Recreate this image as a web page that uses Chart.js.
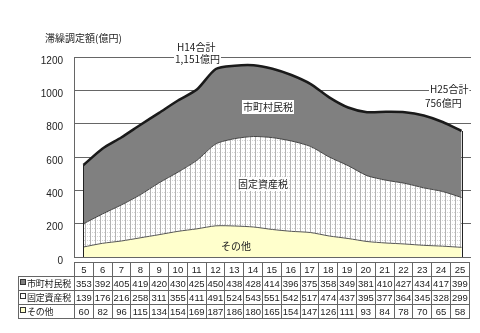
<!DOCTYPE html>
<html>
<head>
<meta charset="utf-8">
<script src="https://cdn.jsdelivr.net/npm/chart.js@4/dist/chart.umd.min.js"></script>
<style>
  html, body { margin: 0; padding: 0; background: #fff; }
  #wrap { position: relative; width: 480px; height: 333px; overflow: hidden; }
  #c { position: absolute; left: 0; top: 0; }
  #tbl {
    position: absolute; left: 18px; top: 262px;
    border-collapse: collapse; table-layout: fixed; width: 452px;
    font-family: "Liberation Sans", "Noto Sans CJK JP", sans-serif;
    font-size: 9.5px; color: #222;
  }
  #tbl td { border: 1px solid #666; height: 13px; padding: 0; text-align: center; white-space: nowrap; overflow: hidden; line-height: 13px; }
  #tbl td.blank { border: none; }
  #tbl td.name { text-align: left; font-family: "Noto Sans CJK JP", sans-serif; font-size: 9px; padding-left: 1px; letter-spacing: -0.2px; }
  .key { display: inline-block; width: 4px; height: 4px; border: 1px solid #333; margin-right: 1px; vertical-align: 2px; }
</style>
</head>
<body>
<div id="wrap">
  <canvas id="c" width="480" height="333"></canvas>
  <table id="tbl"></table>
</div>
<script>
var years = ['5', '6', '7', '8', '9', '10', '11', '12', '13', '14', '15', '16', '17', '18', '19', '20', '21', '22', '23', '24', '25'];
var shichosonValues = [353, 392, 405, 419, 420, 430, 425, 450, 438, 428, 414, 396, 375, 358, 349, 381, 410, 427, 434, 417, 399];
var koteiValues = [139, 176, 216, 258, 311, 355, 411, 491, 524, 543, 551, 542, 517, 474, 437, 395, 377, 364, 345, 328, 299];
var sonotaValues = [60, 82, 96, 115, 134, 154, 169, 187, 186, 180, 165, 154, 147, 126, 111, 93, 84, 78, 70, 65, 58];
var yTicks = [0, 200, 400, 600, 800, 1000, 1200];

var C = {
  shichoson: '#808080',
  sonota: '#ffffcc',
  grid: '#666666',
  text: '#222222',
  font: '"Noto Sans CJK JP", "Liberation Sans", sans-serif'
};

// white ground with a light gray cross-hatch for the property-tax band
function hatchPattern() {
  var p = document.createElement('canvas');
  p.width = 5; p.height = 4;
  var g = p.getContext('2d');
  g.fillStyle = '#ffffff';
  g.fillRect(0, 0, 5, 4);
  g.fillStyle = '#b4b4b4';
  g.fillRect(0, 0, 1, 4);
  g.fillStyle = '#d4d4d4';
  g.fillRect(2, 0, 1, 1);
  g.fillRect(4, 0, 1, 1);
  return document.getElementById('c').getContext('2d').createPattern(p, 'repeat');
}

// data table under the plot
(function buildTable() {
  var t = document.getElementById('tbl');
  var html = '<colgroup><col style="width:56px">';
  years.forEach(function () { html += '<col>'; });
  html += '</colgroup><tr><td class="blank"></td>';
  years.forEach(function (y) { html += '<td>' + y + '</td>'; });
  html += '</tr>';
  var rows = [
    ['市町村民税', C.shichoson, shichosonValues],
    ['固定資産税', '#ffffff', koteiValues],
    ['その他', C.sonota, sonotaValues]
  ];
  rows.forEach(function (r) {
    html += '<tr><td class="name"><span class="key" style="background:' + r[1] + '"></span>' + r[0] + '</td>';
    r[2].forEach(function (v) { html += '<td>' + v + '</td>'; });
    html += '</tr>';
  });
  t.innerHTML = html;
})();

function label(ctx, text, x, y, bg) {
  ctx.font = '10px ' + C.font;
  ctx.textBaseline = 'middle';
  ctx.textAlign = 'left';
  var w = ctx.measureText(text).width;
  if (bg) {
    ctx.fillStyle = '#ffffff';
    ctx.fillRect(x - 1, y - 7, w + 2, 14);
  }
  ctx.fillStyle = C.text;
  ctx.fillText(text, x, y);
}

var decorations = {
  id: 'decorations',
  afterDatasetsDraw: function (chart) {
    var ctx = chart.ctx;
    var xs = chart.scales.x, ys = chart.scales.y;
    var n = years.length;
    ctx.save();
    // closing edges of the stacked area at both ends
    ctx.strokeStyle = '#222';
    ctx.lineWidth = 1;
    [0, n - 1].forEach(function (i) {
      var total = shichosonValues[i] + koteiValues[i] + sonotaValues[i];
      var x = Math.round(xs.getPixelForValue(i)) + 0.5;
      ctx.beginPath();
      ctx.moveTo(x, ys.getPixelForValue(0));
      ctx.lineTo(x, ys.getPixelForValue(total));
      ctx.stroke();
    });
    // floor line
    ctx.strokeStyle = C.grid;
    ctx.beginPath();
    ctx.moveTo(chart.chartArea.left, chart.chartArea.bottom + 0.5);
    ctx.lineTo(chart.chartArea.right, chart.chartArea.bottom + 0.5);
    ctx.stroke();

    // series names inside the bands
    label(ctx, '市町村民税', 243, 107, true);
    label(ctx, '固定資産税', 238, 184, true);
    label(ctx, 'その他', 221, 246, false);

    // totals
    label(ctx, 'H14合計', 177, 47, false);
    label(ctx, '1,151億円', 175, 59, true);
    label(ctx, 'H25合計', 430, 89, true);
    label(ctx, '756億円', 425, 103, false);

    // axis title
    label(ctx, '滞繰調定額(億円)', 45, 38, false);
    ctx.restore();
  }
};

new Chart(document.getElementById('c'), {
  type: 'line',
  data: {
    labels: years,
    datasets: [
      {
        label: 'その他',
        data: sonotaValues,
        backgroundColor: C.sonota,
        borderColor: '#555',
        borderWidth: 1,
        fill: 'origin'
      },
      {
        label: '固定資産税',
        data: koteiValues,
        backgroundColor: hatchPattern(),
        borderColor: '#444',
        borderWidth: 1,
        fill: '-1'
      },
      {
        label: '市町村民税',
        data: shichosonValues,
        backgroundColor: C.shichoson,
        borderColor: '#1a1a1a',
        borderWidth: 2.5,
        fill: '-1'
      }
    ]
  },
  options: {
    responsive: false,
    animation: false,
    layout: { padding: { left: 0, right: 9, top: 57, bottom: 76 } },
    elements: { point: { radius: 0 }, line: { tension: 0.25, borderJoinStyle: 'round' } },
    plugins: { legend: { display: false }, tooltip: { enabled: false } },
    scales: {
      x: { display: false, offset: true },
      y: {
        stacked: true,
        min: 0,
        max: 1200,
        afterFit: function (s) { s.width = 74; },
        afterBuildTicks: function (s) { s.ticks = yTicks.map(function (v) { return { value: v }; }); },
        grid: { color: C.grid, drawTicks: false },
        border: { display: true, color: C.grid },
        ticks: {
          padding: 11,
          labelOffset: 4,
          color: C.text,
          font: { family: '"Liberation Sans", sans-serif', size: 10 },
          callback: function (v) { return String(v); }
        }
      }
    }
  },
  plugins: [decorations]
});
</script>
</body>
</html>
